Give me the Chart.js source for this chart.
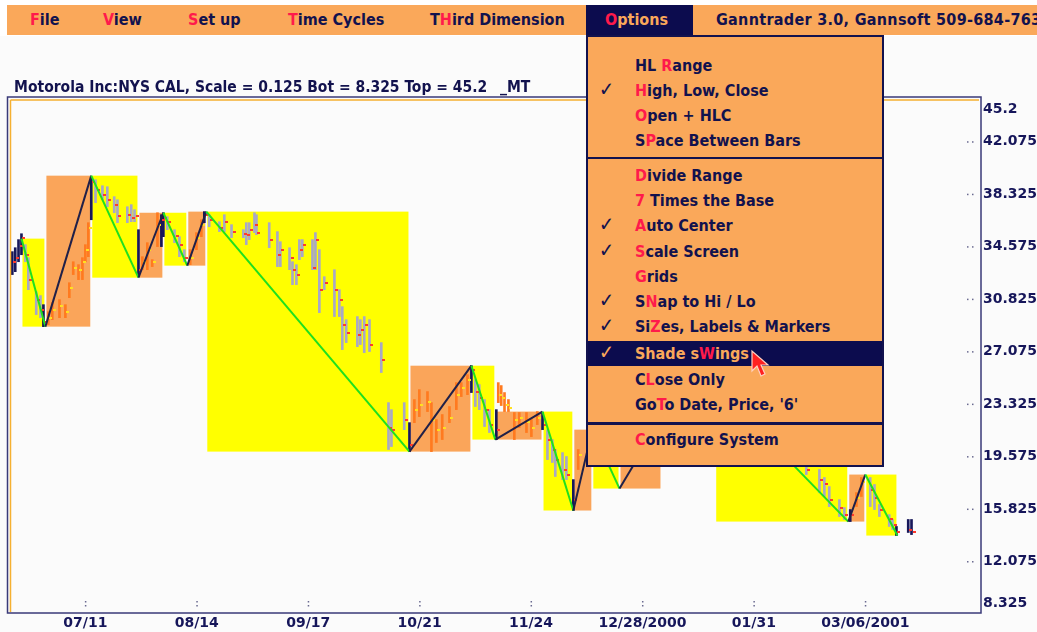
<!DOCTYPE html>
<html lang="en">
<head>
<meta charset="UTF-8">
<title>Ganntrader 3.0 - Motorola</title>
<script src="https://cdn.jsdelivr.net/npm/chart.js"></script>
<style>
body { margin: 0; background: #fff; }
#screen {
    position: relative; width: 1037px; height: 632px; overflow: hidden;
    font-family: "DejaVu Sans Condensed", "DejaVu Sans", sans-serif;
    font-stretch: condensed; font-weight: bold; color: #12124e;
}
#screen canvas { position: absolute; left: 0; top: 0; }
.menubar { position: absolute; left: 7px; top: 5px; width: 1030px; height: 30px; background: #faa85a; }
.menubar span { position: absolute; top: 0; line-height: 30px; font-size: 16px; white-space: nowrap; }
.menubar .open { left: 579px; width: 107px; height: 30px; background: #0c0c4e; }
.k { color: #ff1a4b; }
.title { position: absolute; left: 14px; top: 77px; line-height: 20px; font-size: 15.5px; white-space: nowrap; }
.drop { position: absolute; left: 586px; top: 35px; width: 298px; height: 432px; box-sizing: border-box;
    border: 2px solid #12124e; background: #faa85a; }
.drop div { position: absolute; left: 0; width: 294px; height: 25px; line-height: 25px; font-size: 16px; white-space: nowrap; }
.drop div b { position: absolute; left: 47px; font-weight: bold; }
.drop div i { position: absolute; left: 11px; top: -1px; font-style: normal; font-family: "DejaVu Sans", sans-serif; font-weight: bold; font-size: 20px; }
.drop .hl { background: #0c0c4e; color: #faa85a; }
.drop .sep { height: 2px; background: #12124e; }
</style>
</head>
<body>
<div id="screen">
  <canvas id="chart" width="1037" height="632"></canvas>

  <div class="menubar">
    <span style="left:23px"><span class="k" style="position:static">F</span>ile</span>
    <span style="left:96px"><span class="k" style="position:static">V</span>iew</span>
    <span style="left:181px"><span class="k" style="position:static">S</span>et up</span>
    <span style="left:281px"><span class="k" style="position:static">T</span>ime Cycles</span>
    <span style="left:423px">T<span class="k" style="position:static">H</span>ird Dimension</span>
    <span class="open"></span>
    <span style="left:598px;color:#faa85a"><span class="k" style="position:static">O</span>ptions</span>
    <span style="left:709px;letter-spacing:0.3px">Ganntrader 3.0, Gannsoft 509-684-7632</span>
  </div>

  <div class="title">Motorola Inc:NYS CAL, Scale = 0.125 Bot = 8.325 Top = 45.2</div>
  <div class="title" style="left:500px">_MT</div>

  <div class="drop">
    <div style="top:16px"><b>HL <span class="k">R</span>ange</b></div>
    <div style="top:41px"><i>✓</i><b><span class="k">H</span>igh, Low, Close</b></div>
    <div style="top:66px"><b><span class="k">O</span>pen + HLC</b></div>
    <div style="top:91px"><b>S<span class="k">P</span>ace Between Bars</b></div>
    <div class="sep" style="top:120px"></div>
    <div style="top:126px"><b><span class="k">D</span>ivide Range</b></div>
    <div style="top:151px"><b><span class="k">7</span> Times the Base</b></div>
    <div style="top:176px"><i>✓</i><b><span class="k">A</span>uto Center</b></div>
    <div style="top:202px"><i>✓</i><b><span class="k">S</span>cale Screen</b></div>
    <div style="top:227px"><b><span class="k">G</span>rids</b></div>
    <div style="top:252px"><i>✓</i><b>S<span class="k">N</span>ap to Hi / Lo</b></div>
    <div style="top:277px"><i>✓</i><b>Si<span class="k">Z</span>es, Labels &amp; Markers</b></div>
    <div class="hl" style="top:304px"><i>✓</i><b>Shade s<span class="k">W</span>ings</b></div>
    <div style="top:330px"><b>C<span class="k">L</span>ose Only</b></div>
    <div style="top:355px"><b>Go<span class="k">T</span>o Date, Price, '6'</b></div>
    <div class="sep" style="top:385px;height:3px"></div>
    <div style="top:390px"><b><span class="k">C</span>onfigure System</b></div>
  </div>

  <svg style="position:absolute;left:749px;top:349px" width="24" height="30">
    <polygon points="3,2 3,22 8,17 12,27 16,25 12,16 19,16" fill="#ff2020" stroke="#ffd0c0" stroke-width="1.2"/>
  </svg>
</div>

<script>
// days counted from 07/11/2000
const xTickDays = [0, 34, 68, 102, 136, 170, 204, 238];
const xTickLabels = ['07/11', '08/14', '09/17', '10/21', '11/24', '12/28/2000', '01/31', '03/06/2001'];
const yTicks = [45.2, 42.075, 38.325, 34.575, 30.825, 27.075, 23.325, 19.575, 15.825, 12.075, 8.325];

// swing highs / lows
const swingDay = [-19.5, -12.2, 1.8, 16.2, 23.8, 31.1, 36.9, 98.9, 117.8, 125.1, 139.5, 148.9,
                  154.7, 163.0, 175.8, 184.3, 192.2, 232.8, 238.0, 247.8];
const swingPrice = [35.15, 28.86, 39.65, 32.36, 37.00, 33.22, 37.08, 19.93, 26.07, 20.79, 22.79, 15.72,
                    21.50, 17.29, 22.29, 20.43, 24.72, 14.93, 18.29, 13.93];

// daily high / low / close bars
const barDay = [-22.3, -21.4, -20.4, -19.5,
    -18.3, -17.4, -15.0, -13.7, -12.8,
    -11.3, -10.1, -7.9, -6.1, -4.9, -3.7, -2.1, -0.9, 0, 0.9, 1.8,
    3.1, 5.2, 6.7, 8.8, 9.8, 12.8, 14.0, 15.0,
    16.2, 17.4, 18.9, 20.4, 22.0, 23.2, 23.8,
    25.0, 27.2, 28.7, 30.2,
    32.0, 33.9, 35.4, 36.3,
    37.8, 40.9, 42.4, 44.6, 48.2, 49.1, 50.0, 51.6, 52.2, 56.1, 58.6, 59.5, 62.3, 63.2, 64.4, 65.3, 66.2,
    69.3, 70.2, 71.4, 72.9, 76.0, 77.5, 78.4, 79.6, 83.0, 83.9, 85.1, 86.7, 90.3, 92.5, 93.4, 97.3, 98.9,
    100.4, 101.9, 104.4, 105.6, 107.1, 108.9, 111.1, 113.2, 114.7, 116.6, 117.8,
    119.0, 120.2, 121.8, 123.3,
    125.4, 126.0, 126.9, 127.9, 129.1, 130.9, 132.4, 134.6, 136.1, 137.9, 139.5,
    141.0, 142.5, 143.4, 145.6, 146.8, 148.9,
    150.4,
    220.0, 224.0, 225.5, 227.0, 230.1, 231.6,
    233.4, 235.3, 236.8,
    239.5, 240.8, 242.3, 245.3, 246.3, 247.5,
    251.1, 252.1];
const barHigh = [34.22, 34.50, 35.08, 35.50,
    34.72, 33.79, 31.36, 31.08, 30.43,
    29.93, 30.58, 30.79, 30.43, 32.00, 33.50, 33.29, 33.79, 34.72, 36.29, 39.50,
    39.36, 38.93, 38.86, 38.15, 37.93, 37.43, 37.58, 37.22,
    35.79, 33.86, 34.86, 33.65, 37.00, 36.86, 37.00,
    36.72, 35.79, 35.29, 34.36,
    34.36, 35.58, 36.50, 37.08,
    36.86, 36.36, 36.86, 36.15, 35.79, 36.29, 36.29, 37.00, 36.86, 36.29, 35.65, 34.93, 34.50, 33.50, 33.29, 35.08, 35.08,
    35.08, 35.58, 34.36, 32.43, 32.93, 31.50, 30.29, 29.36, 29.58, 29.36, 29.58, 29.36, 27.72, 23.43, 22.93, 23.43, 22.00,
    23.65, 24.36, 24.22, 23.43, 22.22, 22.58, 23.15, 24.86, 24.86, 25.43, 26.07,
    25.08, 24.72, 23.65, 22.93,
    22.93, 24.86, 24.65, 24.15, 23.65, 22.72, 22.72, 22.72, 22.22, 22.79, 22.72,
    21.50, 20.79, 20.08, 19.86, 19.58, 17.93,
    20.08,
    19.36, 18.65, 18.08, 17.43, 16.50, 15.93,
    15.79, 17.00, 18.08,
    18.08, 17.58, 16.15, 15.43, 15.08, 14.58,
    15.08, 15.08];
const barLow = [32.58, 32.79, 33.50, 34.00,
    33.50, 31.50, 29.72, 29.50, 28.86,
    29.00, 29.36, 29.50, 29.50, 30.93, 32.58, 32.22, 32.22, 33.50, 33.86, 36.50,
    37.72, 37.93, 37.43, 37.00, 36.29, 36.29, 36.36, 36.36,
    32.43, 32.93, 32.93, 33.15, 34.58, 34.58, 35.29,
    35.79, 34.86, 33.86, 33.50,
    33.29, 34.36, 35.29, 36.29,
    36.00, 35.65, 35.65, 35.22, 35.22, 34.72, 35.08, 35.58, 35.43, 34.50, 33.15, 33.15, 32.93, 31.86, 31.86, 33.65, 33.86,
    32.93, 32.93, 29.86, 31.50, 29.58, 29.58, 27.22, 27.72, 27.43, 27.58, 27.00, 27.08, 25.58, 20.08, 20.29, 21.50, 19.93,
    22.00, 22.43, 22.79, 19.93, 20.58, 20.79, 22.00, 22.93, 23.86, 24.00, 24.15,
    23.15, 22.93, 21.72, 21.29,
    20.79, 23.43, 23.22, 22.79, 22.79, 20.79, 21.65, 21.29, 21.00, 21.86, 21.50,
    19.36, 19.15, 18.15, 17.93, 17.93, 15.72,
    18.65,
    18.29, 17.00, 16.72, 16.00, 15.29, 15.08,
    14.93, 16.00, 16.72,
    16.00, 15.79, 15.29, 14.58, 14.36, 13.93,
    14.15, 14.00];
const barClose = [33.50, 33.79, 34.65, 35.22,
    34.00, 32.22, 30.79, 30.08, 29.22,
    29.50, 30.08, 30.36, 29.93, 31.65, 33.08, 32.93, 33.50, 34.36, 35.93, 39.22,
    38.65, 38.29, 37.93, 37.58, 36.79, 36.86, 36.65, 36.79,
    32.93, 33.50, 34.36, 33.50, 36.15, 36.50, 36.65,
    36.36, 35.36, 34.72, 33.79,
    33.79, 35.22, 36.15, 36.86,
    36.50, 35.93, 36.36, 35.65, 35.50, 35.43, 35.79, 36.15, 35.58, 35.08, 34.00, 34.36, 33.79, 32.93, 32.58, 34.36, 34.72,
    33.08, 35.08, 31.50, 32.00, 31.50, 30.79, 29.00, 28.43, 28.29, 28.65, 29.00, 27.58, 26.50, 21.65, 21.50, 22.22, 20.43,
    22.93, 23.29, 23.50, 22.22, 21.50, 21.65, 22.36, 24.00, 24.50, 25.08, 25.79,
    24.22, 23.79, 22.93, 21.86,
    21.50, 24.00, 23.79, 23.29, 23.08, 22.22, 22.36, 22.08, 21.65, 22.36, 21.86,
    20.79, 20.08, 19.36, 18.65, 18.29, 16.50,
    19.72,
    18.65, 17.93, 17.58, 16.50, 15.93, 15.43,
    15.43, 16.65, 17.79,
    17.22, 16.65, 15.79, 15.08, 14.72, 14.15,
    14.36, 14.15];

const NAVY = '#17175a';
const GRAY_BAR = '#a8a8c6';
const ORANGE_BAR = '#ff7a1f';
const YELLOW = '#ffff00';
const ORANGE_BOX = '#faa55a';
const GREEN = '#1fe01f';
const RED = '#ff3a2c';

// which swing a bar sits in: up, down, at a pivot, or outside all swings
function barKind(i) {
    const d = barDay[i];
    for (let s = 0; s < swingDay.length - 1; s++) {
        if (d >= swingDay[s] - 0.7 && d <= swingDay[s + 1]) {
            if (Math.abs(d - swingDay[s]) < 0.7 || Math.abs(d - swingDay[s + 1]) < 0.7) return 'pivot';
            return swingPrice[s + 1] > swingPrice[s] ? 'up' : 'down';
        }
    }
    return 'out';
}
function barColor(i) {
    const k = barKind(i);
    if (k === 'up') return ORANGE_BAR;
    if (k === 'down') return GRAY_BAR;
    return NAVY;
}

const screenPlugin = {
    id: 'ganntrader',
    beforeDraw(chart) {
        const { ctx, chartArea: a, scales: { x, y } } = chart;
        ctx.save();
        ctx.fillStyle = '#ffffff';
        ctx.fillRect(0, 0, chart.width, chart.height);
        ctx.fillStyle = '#fbfbfb';
        ctx.fillRect(0, 36, 1037, 596);
        // shaded swings
        for (let s = 0; s < swingDay.length - 1; s++) {
            const x0 = x.getPixelForValue(swingDay[s]);
            const x1 = x.getPixelForValue(swingDay[s + 1]);
            const y0 = y.getPixelForValue(swingPrice[s]);
            const y1 = y.getPixelForValue(swingPrice[s + 1]);
            ctx.fillStyle = swingPrice[s + 1] > swingPrice[s] ? ORANGE_BOX : YELLOW;
            ctx.fillRect(x0 + 1, Math.min(y0, y1), x1 - x0 - 2, Math.abs(y1 - y0));
        }
        ctx.restore();
    },
    afterDatasetDraw(chart, args) {
        if (args.index !== 0) return;
        const { ctx, scales: { x, y } } = chart;
        ctx.save();
        barDay.forEach((d, i) => {
            const px = Math.round(x.getPixelForValue(d));
            const py = Math.round(y.getPixelForValue(barClose[i]));
            ctx.fillStyle = barKind(i) === 'up' ? '#ffe020' : RED;
            ctx.fillRect(px + 1, py - 1, 3, 2);
        });
        ctx.restore();
    },
    afterDraw(chart) {
        const { ctx, chartArea: a, scales: { x, y } } = chart;
        ctx.save();
        // frame
        ctx.strokeStyle = '#3a3a78';
        ctx.lineWidth = 1.5;
        ctx.strokeRect(7.5, 97, 973.5, 516);
        ctx.strokeStyle = '#f5b030';
        ctx.lineWidth = 1.5;
        ctx.beginPath();
        ctx.moveTo(10.5, 100); ctx.lineTo(979, 100);
        ctx.moveTo(10.5, 100); ctx.lineTo(10.5, 612);
        ctx.stroke();

        // price scale
        ctx.fillStyle = '#16165a';
        ctx.font = 'bold 14px "DejaVu Sans"';
        ctx.textBaseline = 'middle';
        ctx.textAlign = 'left';
        yTicks.forEach((v, i) => {
            const py = y.getPixelForValue(v);
            ctx.fillText(String(v), 983, Math.min(Math.max(py, 109), 603));
            if (i > 0 && i < yTicks.length - 1) {
                ctx.fillStyle = '#6a6a90';
                ctx.fillRect(967, py - 0.5, 1.5, 1.5);
                ctx.fillRect(972, py - 0.5, 1.5, 1.5);
                ctx.fillStyle = '#16165a';
            }
        });

        // date scale
        ctx.textAlign = 'center';
        ctx.font = 'bold 14px "DejaVu Sans"';
        xTickDays.forEach((d, i) => {
            const px = x.getPixelForValue(d);
            ctx.fillStyle = '#16165a';
            ctx.fillText(xTickLabels[i], px, 623);
            ctx.fillStyle = '#6a6a90';
            ctx.fillRect(px - 0.5, 601, 1.5, 1.5);
            ctx.fillRect(px - 0.5, 605, 1.5, 1.5);
        });
        ctx.restore();
    }
};

new Chart(document.getElementById('chart'), {
    data: {
        datasets: [{
            type: 'bar',
            data: barDay.map((d, i) => ({ x: d, y: [barLow[i], barHigh[i]] })),
            backgroundColor: c => barColor(c.dataIndex),
            barThickness: 2,
            grouped: false,
            order: 2
        }, {
            type: 'line',
            data: swingDay.map((d, i) => ({ x: d, y: swingPrice[i] })),
            borderWidth: 2,
            pointRadius: 0,
            tension: 0,
            segment: {
                borderColor: c => c.p1.parsed.y < c.p0.parsed.y ? GREEN : '#202048'
            },
            order: 1
        }]
    },
    options: {
        responsive: false,
        animation: false,
        layout: { padding: { left: 10, right: 57, top: 98, bottom: 18 } },
        plugins: { legend: { display: false }, tooltip: { enabled: false } },
        scales: {
            x: { type: 'linear', min: -23, max: 273, offset: false, display: false },
            y: { type: 'linear', min: 8.325, max: 45.2, display: false }
        }
    },
    plugins: [screenPlugin]
});
</script>
</body>
</html>
